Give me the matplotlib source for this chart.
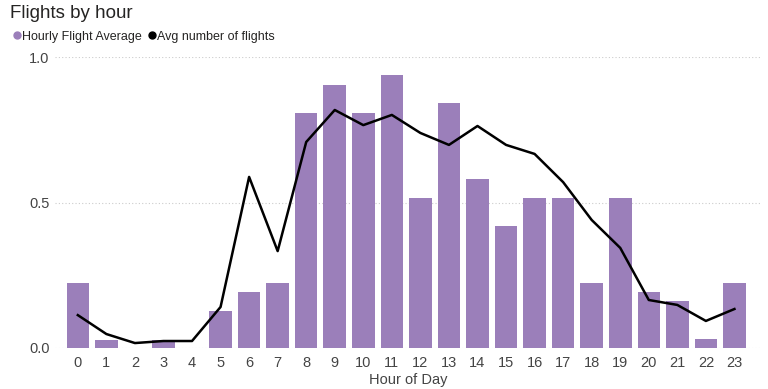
import matplotlib

matplotlib.use("Agg")
import matplotlib.pyplot as plt
from matplotlib.lines import Line2D

hours = list(range(24))
hourly_avg = [0.223, 0.027, 0.0, 0.027, 0.0, 0.127, 0.192, 0.223, 0.808, 0.904,
              0.808, 0.938, 0.515, 0.842, 0.581, 0.419, 0.515, 0.515, 0.223, 0.515,
              0.192, 0.162, 0.031, 0.223]
avg_flights = [0.113, 0.048, 0.017, 0.024, 0.024, 0.141, 0.588, 0.333, 0.708, 0.818,
               0.766, 0.801, 0.739, 0.698, 0.763, 0.698, 0.667, 0.570, 0.440, 0.344,
               0.165, 0.148, 0.093, 0.134]
y_ticks = [0.0, 0.5, 1.0]

bar_color = "#9b7fba"
text_color = "#444444"

plt.rcParams["font.family"] = ["Liberation Sans", "DejaVu Sans"]

fig = plt.figure(figsize=(7.68, 3.89), dpi=100)
ax = fig.add_axes([0.0716, 0.1054, 0.92, 0.748])

ax.bar(hours, hourly_avg, width=0.79, color=bar_color, zorder=2)
ax.plot(hours, avg_flights, color="black", linewidth=1.8, zorder=3)

ax.set_xlim(-0.8, 23.95)
ax.set_ylim(0, 1.0)
ax.set_xticks(hours)
ax.set_yticks(y_ticks)
ax.set_yticklabels([f"{v:.1f}" for v in y_ticks])
ax.tick_params(length=0, labelsize=10.5, colors=text_color, pad=6)
ax.tick_params(axis="y", pad=4)
for spine in ax.spines.values():
    spine.set_visible(False)
ax.grid(axis="y", linestyle=(0, (1, 2)), color="#cccccc", linewidth=0.8, zorder=0)
ax.set_xlabel("Hour of Day", fontsize=10.5, color=text_color, labelpad=2)

fig.text(0.013, 0.965, "Flights by hour", fontsize=13.5, color="#252423", va="center")

handles = [
    Line2D([], [], marker="o", linestyle="", color=bar_color, markersize=5),
    Line2D([], [], marker="o", linestyle="", color="black", markersize=5),
]
fig.legend(handles, ["Hourly Flight Average", "Avg number of flights"],
           loc="center left", bbox_to_anchor=(0.004, 0.906), ncol=2, frameon=False,
           fontsize=9, handlelength=0.5, handletextpad=0.15, columnspacing=0.5,
           labelcolor="#252423")

fig.savefig("out.png", dpi=100)
